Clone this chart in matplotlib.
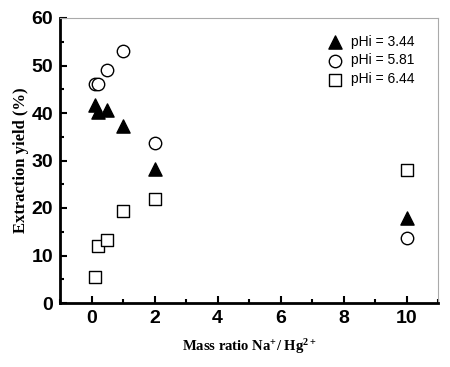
import matplotlib.pyplot as plt
from matplotlib.ticker import MultipleLocator

mass_ratio = [0.1, 0.2, 0.5, 1, 2, 10]
yield_344 = [41.7, 40.3, 40.7, 37.3, 28.3, 18.0]
yield_581 = [46.2, 46.2, 49.0, 53.1, 33.7, 13.6]
yield_644 = [5.4, 11.9, 13.2, 19.3, 22.0, 27.9]
labels = ['pHi = 3.44', 'pHi = 5.81', 'pHi = 6.44']

plt.rcParams['mathtext.fontset'] = 'custom'
plt.rcParams['mathtext.rm'] = 'Liberation Serif:bold'
plt.rcParams['mathtext.it'] = 'Liberation Serif:bold'
plt.rcParams['mathtext.bf'] = 'Liberation Serif:bold'

fig = plt.figure(figsize=(4.5, 3.67), dpi=100)
ax = fig.add_axes([60/450, 1 - 303/367, 378/450, 285/367])

ax.scatter(mass_ratio, yield_344, marker='^', s=90, c='black', label=labels[0], zorder=3)
ax.scatter(mass_ratio, yield_581, marker='o', s=80, facecolors='white', edgecolors='black',
           linewidths=1.0, label=labels[1], zorder=3)
ax.scatter(mass_ratio, yield_644, marker='s', s=80, facecolors='white', edgecolors='black',
           linewidths=1.0, label=labels[2], zorder=3)

ax.set_xlim(-1, 11)
ax.set_ylim(0, 60)
ax.xaxis.set_major_locator(MultipleLocator(2))
ax.xaxis.set_minor_locator(MultipleLocator(1))
ax.yaxis.set_major_locator(MultipleLocator(10))
ax.yaxis.set_minor_locator(MultipleLocator(5))
ax.set_xticks([0, 2, 4, 6, 8, 10])

for side in ['left', 'bottom']:
    ax.spines[side].set_linewidth(2)
    ax.spines[side].set_color('black')
for side in ['top', 'right']:
    ax.spines[side].set_linewidth(0.8)
    ax.spines[side].set_color('#aaaaaa')

ax.tick_params(which='major', direction='in', length=5, width=1.5, top=False, right=False)
ax.tick_params(which='minor', direction='in', length=3, width=1.5, top=False, right=False)
ax.tick_params(axis='both', labelsize=14, pad=5)
for lab in ax.get_xticklabels() + ax.get_yticklabels():
    lab.set_fontfamily('Liberation Sans')
    lab.set_fontweight('bold')

ax.set_xlabel(r'Mass ratio Na$^{+}$/ Hg$^{2+}$', fontfamily='Liberation Serif',
              fontweight='bold', fontsize=10.5, labelpad=7)
ax.set_ylabel('Extraction yield (%)', fontfamily='Liberation Serif',
              fontweight='bold', fontsize=12, labelpad=2)

ax.legend(loc='upper left', frameon=False, prop={'family': 'Liberation Sans', 'size': 10},
          handlelength=1.0, handletextpad=0.6, labelspacing=0.35, borderpad=0,
          borderaxespad=0, markerscale=1.0, bbox_to_anchor=(0.71, 0.942))

fig.savefig('out.png', dpi=100)
